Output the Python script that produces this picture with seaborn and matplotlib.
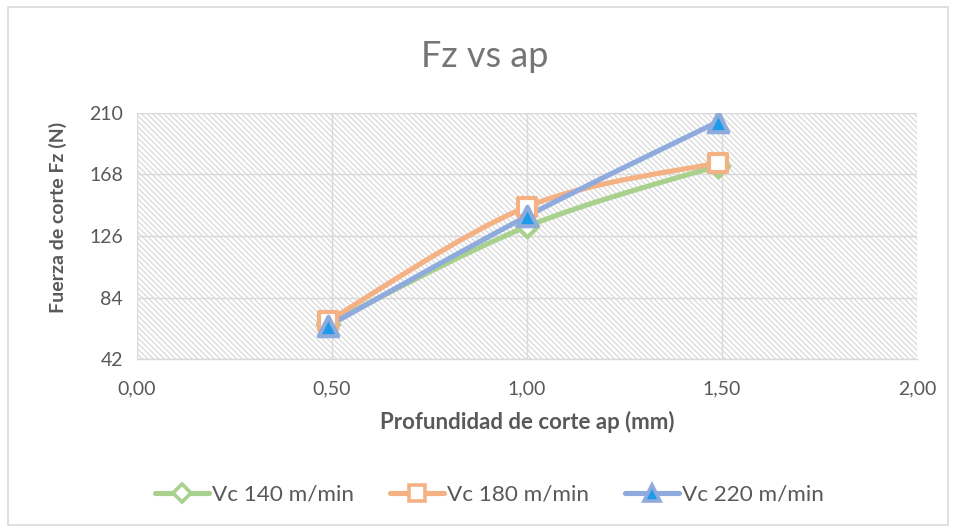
import matplotlib
matplotlib.use("Agg")
import matplotlib.pyplot as plt
from matplotlib.path import Path
from matplotlib.patches import PathPatch, Rectangle
from matplotlib.lines import Line2D
from matplotlib.ticker import FuncFormatter
import numpy as np
import pandas as pd
import seaborn as sns

# Cutting depth ap (mm) and vertical cutting force Fz (N) for three cutting speeds
ap_mm = [0.49, 1.00, 1.49]
fz_vc140 = [66.0, 132.5, 174.0]
fz_vc180 = [68.0, 146.0, 176.0]
fz_vc220 = [64.5, 139.5, 204.0]
series_names = ["Vc 140 m/min", "Vc 180 m/min", "Vc 220 m/min"]

x_ticks = [0.0, 0.5, 1.0, 1.5, 2.0]
y_ticks = [42, 84, 126, 168, 210]

sns.set_theme(style="white")
plt.rcParams["font.family"] = ["Lato", "DejaVu Sans"]
plt.rcParams["hatch.color"] = "#dcdcdc"
plt.rcParams["hatch.linewidth"] = 1.0

df = pd.concat([
    pd.DataFrame({"ap": ap_mm, "Fz": vals, "serie": name})
    for name, vals in zip(series_names, [fz_vc140, fz_vc180, fz_vc220])
], ignore_index=True)

colors = {"Vc 140 m/min": "#A9D18E", "Vc 180 m/min": "#F4B183", "Vc 220 m/min": "#8FAADC"}
markers = {"Vc 140 m/min": "D", "Vc 180 m/min": "s", "Vc 220 m/min": "^"}
faces = {"Vc 140 m/min": "white", "Vc 180 m/min": "white", "Vc 220 m/min": "#1E9BE8"}
msizes = {"Vc 140 m/min": 11, "Vc 180 m/min": 13, "Vc 220 m/min": 14}

fig = plt.figure(figsize=(9.56, 5.32), dpi=100)
ax = fig.add_axes([0.1433, 0.325, 0.8159, 0.4627])

# hatched plot area
ax.patch.set_facecolor("white")
ax.patch.set_hatch("\\" * 6)
ax.patch.set_edgecolor("#dcdcdc")
ax.patch.set_linewidth(0)


def smooth_path(xs, ys):
    """Cubic Bezier path through the points (Catmull-Rom style smoothing)."""
    pts = np.column_stack([xs, ys]).astype(float)
    n = len(pts)
    verts = [pts[0]]
    codes = [Path.MOVETO]
    for i in range(n - 1):
        p0 = pts[i - 1] if i > 0 else pts[i]
        p1 = pts[i]
        p2 = pts[i + 1]
        p3 = pts[i + 2] if i + 2 < n else pts[i + 1]
        c1 = p1 + (p2 - p0) / 6.0
        c2 = p2 - (p3 - p1) / 6.0
        verts += [c1, c2, p2]
        codes += [Path.CURVE4] * 3
    return Path(verts, codes)


for name in series_names:
    sub = df[df["serie"] == name]
    ax.add_patch(PathPatch(smooth_path(sub["ap"], sub["Fz"]), facecolor="none",
                           edgecolor=colors[name], lw=3.7, capstyle="round",
                           joinstyle="round", zorder=3))

for name in series_names:
    sns.scatterplot(data=df[df["serie"] == name], x="ap", y="Fz", ax=ax,
                    marker=markers[name], s=msizes[name] ** 2,
                    color=faces[name], edgecolor=colors[name], linewidth=3.0,
                    zorder=4, legend=False)

ax.set_xlim(0, 2)
ax.set_ylim(42, 210)
ax.set_xticks(x_ticks)
ax.set_yticks(y_ticks)
ax.xaxis.set_major_formatter(FuncFormatter(lambda v, p: f"{v:.2f}".replace(".", ",")))
ax.yaxis.set_major_formatter(FuncFormatter(lambda v, p: f"{v:.0f}"))
ax.grid(True, color="#d9d9d9", lw=1.0, zorder=1)
ax.set_axisbelow(True)
for side in ["top", "right", "left"]:
    ax.spines[side].set_visible(False)
ax.spines["bottom"].set_color("#d9d9d9")
ax.spines["bottom"].set_linewidth(1.0)
ax.tick_params(axis="x", length=0, labelsize=14, colors="#595959", pad=15)
ax.tick_params(axis="y", length=0, labelsize=14, colors="#595959", pad=10)

ax.set_xlabel("Profundidad de corte ap (mm)", fontsize=16, fontweight="bold",
              color="#595959", labelpad=10)
ax.set_ylabel("Fuerza de corte Fz (N)", fontsize=14, fontweight="bold",
              color="#595959")
ax.yaxis.set_label_coords(-0.09, 0.577)

fig.text(0.507, 0.893, "Fz vs ap", ha="center", va="center", fontsize=26,
         fontweight="normal", color="#757575")

handles = [Line2D([0], [0], color=colors[n], lw=3.7, marker=markers[n],
                  markersize=msizes[n] * 0.85, markerfacecolor=faces[n],
                  markeredgecolor=colors[n], markeredgewidth=2.6)
           for n in series_names]
fig.legend(handles, series_names, loc="center", bbox_to_anchor=(0.512, 0.07),
           ncol=3, frameon=False, fontsize=16.2, labelcolor="#595959",
           handlelength=2.4, columnspacing=1.6, handletextpad=0.12)

# outer chart border
fig.patches.append(Rectangle((0.008, 0.013), 0.984, 0.974, transform=fig.transFigure,
                             facecolor="none", edgecolor="#d9d9d9", lw=1.2))

fig.savefig("out.png", dpi=100)
